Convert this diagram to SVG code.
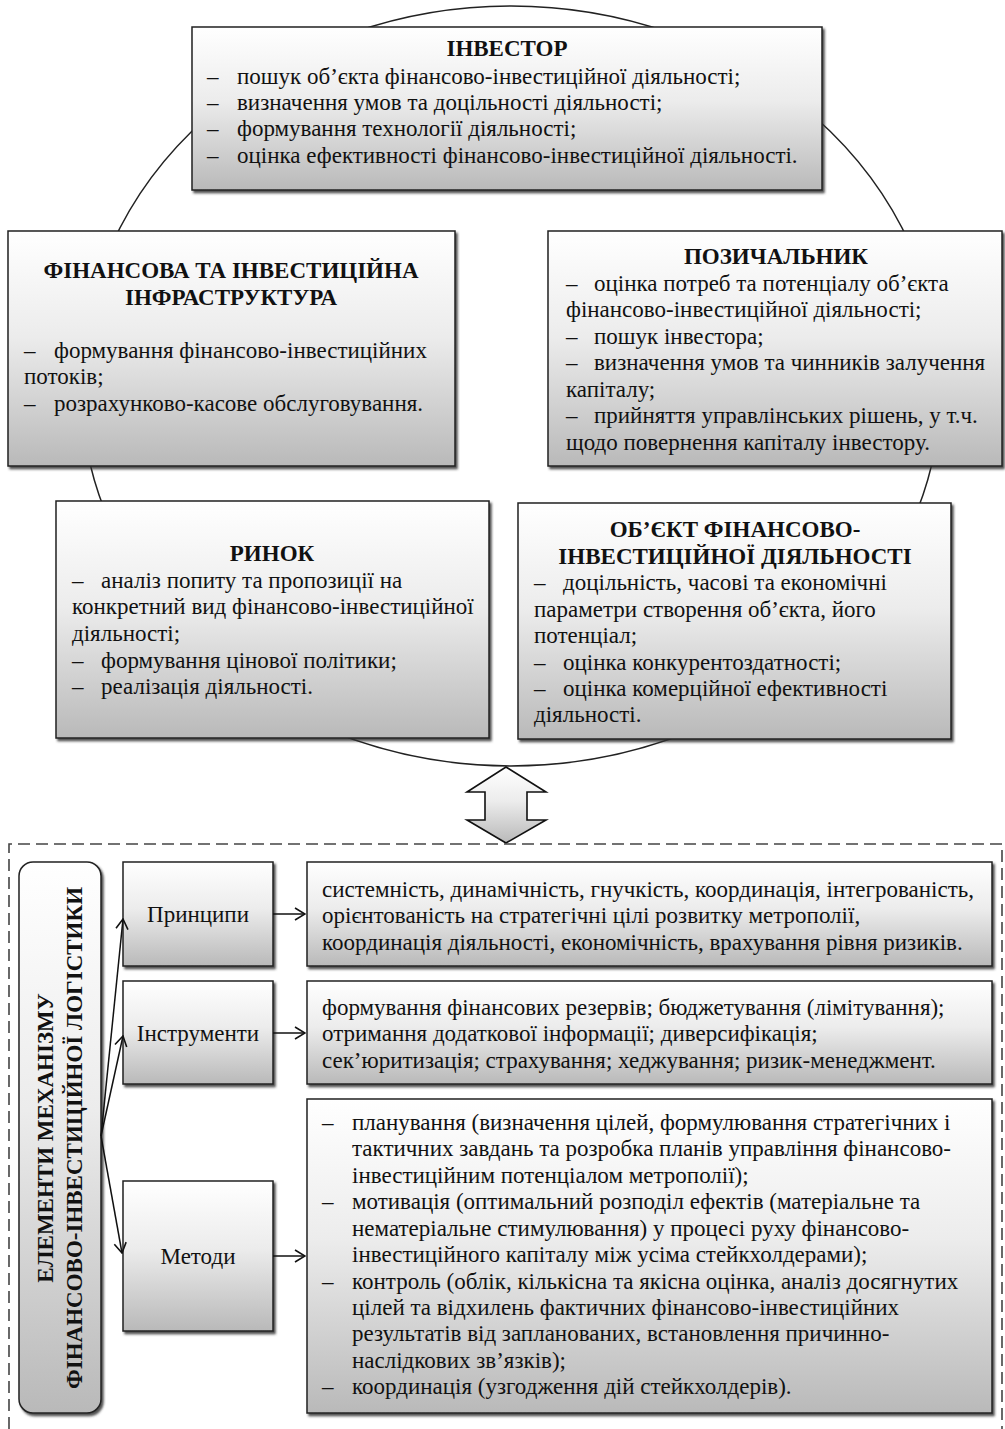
<svg xmlns="http://www.w3.org/2000/svg" width="1005" height="1429" viewBox="0 0 1005 1429">
  <defs>
    <linearGradient id="boxFill" x1="0" y1="0" x2="0" y2="1">
      <stop offset="0" stop-color="#ffffff"/>
      <stop offset="0.45" stop-color="#ececec"/>
      <stop offset="1" stop-color="#b9b9b9"/>
    </linearGradient>
    <filter id="shadow" x="-5%" y="-5%" width="110%" height="110%">
      <feDropShadow dx="2" dy="2.5" stdDeviation="0.8" flood-color="#333" flood-opacity="0.85"/>
    </filter>
    <marker id="openArrow" markerWidth="12" markerHeight="14" refX="11" refY="7" orient="auto" markerUnits="userSpaceOnUse">
      <path d="M1,1 L11,7 L1,13" fill="none" stroke="#111" stroke-width="1.6"/>
    </marker>
  </defs>
  <style>
    .box { fill: url(#boxFill); stroke: #222; stroke-width: 1.5; filter: url(#shadow); }
    .t { font-family: "Liberation Serif", "Times New Roman", serif; font-size: 23px; fill: #111; }
    .title { font-family: "Liberation Serif", "Times New Roman", serif; font-size: 23px; font-weight: bold; fill: #111; text-anchor: middle; }
    .mid { text-anchor: middle; }
    .conn { fill: none; stroke: #111; stroke-width: 1.5; }
  </style>

  <rect width="1005" height="1429" fill="#ffffff"/>

  <!-- cycle ellipse behind the participant boxes -->
  <ellipse cx="511" cy="386" rx="430" ry="380" fill="none" stroke="#222" stroke-width="1.5"/>

  <!-- ІНВЕСТОР -->
  <g id="investor">
    <rect class="box" x="192" y="27" width="630" height="163"/>
    <text class="title" x="507" y="56">ІНВЕСТОР</text>
    <text class="t" y="84"><tspan x="207">–</tspan><tspan x="237">пошук об’єкта фінансово-інвестиційної діяльності;</tspan></text>
    <text class="t" y="110"><tspan x="207">–</tspan><tspan x="237">визначення умов та доцільності діяльності;</tspan></text>
    <text class="t" y="136"><tspan x="207">–</tspan><tspan x="237">формування технології діяльності;</tspan></text>
    <text class="t" y="163"><tspan x="207">–</tspan><tspan x="237">оцінка ефективності фінансово-інвестиційної діяльності.</tspan></text>
  </g>

  <!-- ФІНАНСОВА ТА ІНВЕСТИЦІЙНА ІНФРАСТРУКТУРА -->
  <g id="infrastructure">
    <rect class="box" x="8" y="231" width="447" height="235"/>
    <text class="title" x="231" y="278">ФІНАНСОВА ТА ІНВЕСТИЦІЙНА</text>
    <text class="title" x="231" y="305">ІНФРАСТРУКТУРА</text>
    <text class="t" y="358"><tspan x="24">–</tspan><tspan x="54">формування фінансово-інвестиційних</tspan></text>
    <text class="t" x="24" y="384">потоків;</text>
    <text class="t" y="411"><tspan x="24">–</tspan><tspan x="54">розрахунково-касове обслуговування.</tspan></text>
  </g>

  <!-- ПОЗИЧАЛЬНИК -->
  <g id="borrower">
    <rect class="box" x="548" y="231" width="454" height="235"/>
    <text class="title" x="776" y="264">ПОЗИЧАЛЬНИК</text>
    <text class="t" y="291"><tspan x="566">–</tspan><tspan x="594">оцінка потреб та потенціалу об’єкта</tspan></text>
    <text class="t" x="566" y="317">фінансово-інвестиційної діяльності;</text>
    <text class="t" y="344"><tspan x="566">–</tspan><tspan x="594">пошук інвестора;</tspan></text>
    <text class="t" y="370"><tspan x="566">–</tspan><tspan x="594">визначення умов та чинників залучення</tspan></text>
    <text class="t" x="566" y="397">капіталу;</text>
    <text class="t" y="423"><tspan x="566">–</tspan><tspan x="594">прийняття управлінських рішень, у т.ч.</tspan></text>
    <text class="t" x="566" y="450">щодо повернення капіталу інвестору.</text>
  </g>

  <!-- РИНОК -->
  <g id="market">
    <rect class="box" x="56" y="501" width="433" height="237"/>
    <text class="title" x="272" y="561">РИНОК</text>
    <text class="t" y="588"><tspan x="72">–</tspan><tspan x="101">аналіз попиту та пропозиції на</tspan></text>
    <text class="t" x="72" y="614">конкретний вид фінансово-інвестиційної</text>
    <text class="t" x="72" y="641">діяльності;</text>
    <text class="t" y="668"><tspan x="72">–</tspan><tspan x="101">формування цінової політики;</tspan></text>
    <text class="t" y="694"><tspan x="72">–</tspan><tspan x="101">реалізація діяльності.</tspan></text>
  </g>

  <!-- ОБ'ЄКТ ФІНАНСОВО-ІНВЕСТИЦІЙНОЇ ДІЯЛЬНОСТІ -->
  <g id="object">
    <rect class="box" x="518" y="503" width="433" height="236"/>
    <text class="title" x="735" y="537">ОБ’ЄКТ ФІНАНСОВО-</text>
    <text class="title" x="735" y="564">ІНВЕСТИЦІЙНОЇ ДІЯЛЬНОСТІ</text>
    <text class="t" y="590"><tspan x="534">–</tspan><tspan x="563">доцільність, часові та економічні</tspan></text>
    <text class="t" x="534" y="617">параметри створення об’єкта, його</text>
    <text class="t" x="534" y="643">потенціал;</text>
    <text class="t" y="670"><tspan x="534">–</tspan><tspan x="563">оцінка конкурентоздатності;</tspan></text>
    <text class="t" y="696"><tspan x="534">–</tspan><tspan x="563">оцінка комерційної ефективності</tspan></text>
    <text class="t" x="534" y="722">діяльності.</text>
  </g>

  <!-- two-way block arrow between the cycle and the mechanism -->
  <g id="link-arrow">
    <polygon points="506,767 546,792 527,792 527,820 546,820 506,843 467,820 485,820 485,792 467,792" fill="url(#boxFill)" stroke="#111" stroke-width="1.6" stroke-linejoin="miter"/>
  </g>

  <!-- dashed frame of the mechanism block -->
  <g id="mechanism-frame">
    <path d="M9,1429 V844 H1002 V1429" fill="none" stroke="#444" stroke-width="1.6" stroke-dasharray="12,6"/>
  </g>

  <!-- vertical heading -->
  <g id="elements">
    <rect class="box" x="19" y="862" width="82" height="551" rx="14" ry="14"/>
    <text class="title" transform="translate(53,1138) rotate(-90)">ЕЛЕМЕНТИ МЕХАНІЗМУ</text>
    <text class="title" transform="translate(82,1138) rotate(-90)">ФІНАНСОВО-ІНВЕСТИЦІЙНОЇ ЛОГІСТИКИ</text>
  </g>

  <g id="principles">
    <rect class="box" x="123" y="862" width="150" height="104"/>
    <text class="t mid" x="198" y="922">Принципи</text>
  </g>

  <g id="instruments">
    <rect class="box" x="123" y="981" width="150" height="103"/>
    <text class="t mid" x="198" y="1041">Інструменти</text>
  </g>

  <g id="methods">
    <rect class="box" x="123" y="1181" width="150" height="150"/>
    <text class="t mid" x="198" y="1264">Методи</text>
  </g>

  <g id="principles-content">
    <rect class="box" x="307" y="862" width="685" height="104"/>
    <text class="t" x="322" y="897">системність, динамічність, гнучкість, координація, інтегрованість,</text>
    <text class="t" x="322" y="923">орієнтованість на стратегічні цілі розвитку метрополії,</text>
    <text class="t" x="322" y="950">координація діяльності, економічність, врахування рівня ризиків.</text>
  </g>

  <g id="instruments-content">
    <rect class="box" x="307" y="981" width="685" height="103"/>
    <text class="t" x="322" y="1015">формування фінансових резервів; бюджетування (лімітування);</text>
    <text class="t" x="322" y="1041">отримання додаткової інформації; диверсифікація;</text>
    <text class="t" x="322" y="1068">сек’юритизація; страхування; хеджування; ризик-менеджмент.</text>
  </g>

  <g id="methods-content">
    <rect class="box" x="307" y="1099" width="685" height="314"/>
    <text class="t" y="1130"><tspan x="322">–</tspan><tspan x="352">планування (визначення цілей, формулювання стратегічних і</tspan></text>
    <text class="t" x="352" y="1156">тактичних завдань та розробка планів управління фінансово-</text>
    <text class="t" x="352" y="1183">інвестиційним потенціалом метрополії);</text>
    <text class="t" y="1209"><tspan x="322">–</tspan><tspan x="352">мотивація (оптимальний розподіл ефектів (матеріальне та</tspan></text>
    <text class="t" x="352" y="1236">нематеріальне стимулювання) у процесі руху фінансово-</text>
    <text class="t" x="352" y="1262">інвестиційного капіталу між усіма стейкхолдерами);</text>
    <text class="t" y="1289"><tspan x="322">–</tspan><tspan x="352">контроль (облік, кількісна та якісна оцінка, аналіз досягнутих</tspan></text>
    <text class="t" x="352" y="1315">цілей та відхилень фактичних фінансово-інвестиційних</text>
    <text class="t" x="352" y="1341">результатів від запланованих, встановлення причинно-</text>
    <text class="t" x="352" y="1368">наслідкових зв’язків);</text>
    <text class="t" y="1394"><tspan x="322">–</tspan><tspan x="352">координація (узгодження дій стейкхолдерів).</tspan></text>
  </g>

  <!-- connectors -->
  <g id="connectors">
    <line class="conn" x1="101" y1="1136" x2="123" y2="919" marker-end="url(#openArrow)"/>
    <line class="conn" x1="101" y1="1136" x2="123" y2="1036" marker-end="url(#openArrow)"/>
    <line class="conn" x1="101" y1="1136" x2="122" y2="1253" marker-end="url(#openArrow)"/>
    <line class="conn" x1="273" y1="914" x2="305" y2="914" marker-end="url(#openArrow)"/>
    <line class="conn" x1="273" y1="1033" x2="305" y2="1033" marker-end="url(#openArrow)"/>
    <line class="conn" x1="273" y1="1256" x2="305" y2="1256" marker-end="url(#openArrow)"/>
  </g>
</svg>
